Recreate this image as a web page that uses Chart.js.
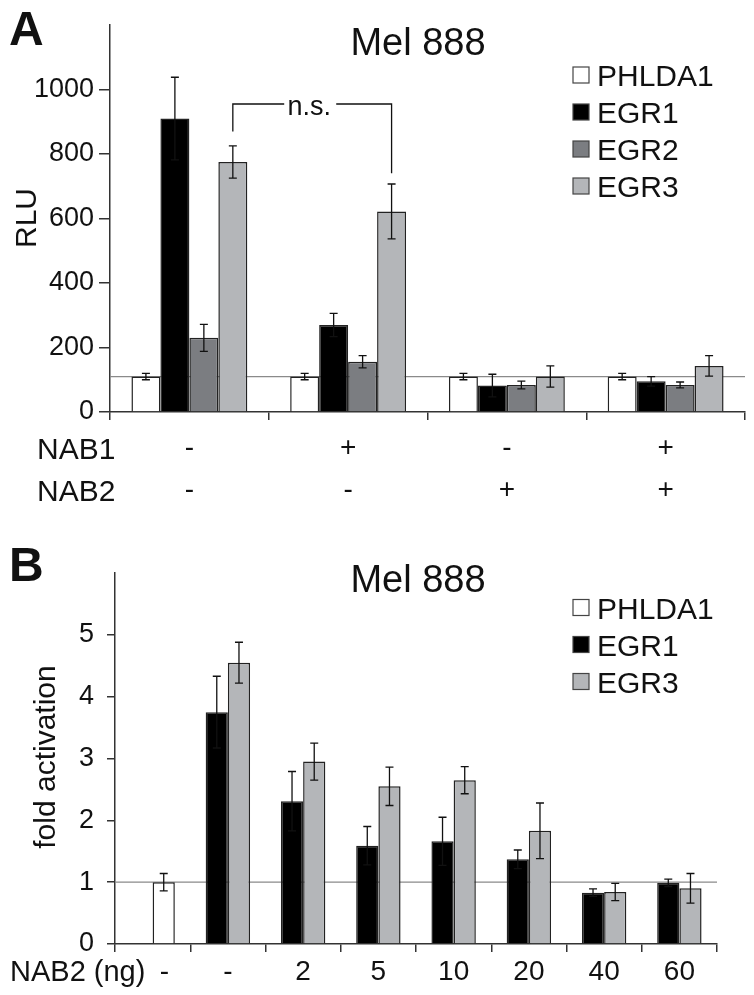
<!DOCTYPE html>
<html>
<head>
  <meta charset="utf-8">
  <title>Mel 888 - PHLDA1 / EGR reporter assays</title>
  <script src="https://cdn.jsdelivr.net/npm/chart.js"></script>
  <style>
    body { margin: 0; background: #fff; }
    canvas { position: absolute; left: 0; }
    #chartA { top: 0; }
    #chartB { top: 520px; }
  </style>
</head>
<body>
  <canvas id="chartA" width="754" height="520"></canvas>
  <canvas id="chartB" width="754" height="475"></canvas>
  <script>
    const FONT = '"Liberation Sans", Arial, Helvetica, sans-serif';

    // ---- panel A data ----
    const catsA = [['-', '-'], ['+', '-'], ['-', '+'], ['+', '+']];
    const rowsA = ['NAB1', 'NAB2'];
    const phlda1A = [110, 110, 110, 110];
    const phlda1ErrA = [10, 10, 10, 10];
    const egr1A = [910, 270, 82, 95];
    const egr1ErrA = [128, 36, 35, 15];
    const egr2A = [230, 156, 84, 84];
    const egr2ErrA = [42, 19, 12, 9];
    const egr3A = [775, 622, 110, 143];
    const egr3ErrA = [50, 85, 33, 32];
    const ticksA = [0, 200, 400, 600, 800, 1000];
    const baseA = 110;
    // n.s. bracket between EGR3 of group 1 and group 2 (values in RLU)
    const nsA = {from: 0, to: 1, top: 955, leftEnd: 870, rightEnd: 740};

    // ---- panel B data ----
    const catsB = ['-', '-', '2', '5', '10', '20', '40', '60'];
    const rowB = 'NAB2 (ng)';
    const phlda1B = [1.0, null, null, null, null, null, null, null];
    const phlda1ErrB = [0.14, null, null, null, null, null, null, null];
    const egr1B = [null, 3.75, 2.31, 1.59, 1.66, 1.37, 0.83, 0.99];
    const egr1ErrB = [null, 0.58, 0.48, 0.31, 0.39, 0.15, 0.06, 0.06];
    const egr3B = [null, 4.55, 2.95, 2.55, 2.65, 1.83, 0.84, 0.90];
    const egr3ErrB = [null, 0.33, 0.30, 0.31, 0.22, 0.45, 0.14, 0.24];
    const ticksB = [0, 1, 2, 3, 4, 5];
    const baseB = 1;

    const colors = {PHLDA1: '#ffffff', EGR1: '#000000', EGR2: '#7b7d81', EGR3: '#b4b6b9'};
    const AXIS = '#333';

    function bar(label, data, errors, stack) {
      const ds = {label, data, errors, backgroundColor: colors[label],
        borderColor: '#222', borderWidth: 1.5, borderSkipped: 'start'};
      if (stack) ds.stack = stack;
      return ds;
    }

    // reference line, error bars, titles, legend, row headers
    function decor(o) {
      return {
        id: 'decor',
        beforeDatasetsDraw(chart) {
          const {ctx, chartArea: a, scales: {y}} = chart;
          const py = y.getPixelForValue(o.base);
          ctx.save();
          ctx.strokeStyle = '#8a8a8a';
          ctx.lineWidth = 1.2;
          ctx.beginPath();
          ctx.moveTo(a.left, py);
          ctx.lineTo(a.right, py);
          ctx.stroke();
          ctx.restore();
        },
        afterDatasetsDraw(chart) {
          const {ctx, scales: {y}} = chart;
          ctx.save();
          ctx.strokeStyle = '#111';
          ctx.lineWidth = 1.3;
          chart.data.datasets.forEach((ds, i) => {
            const meta = chart.getDatasetMeta(i);
            ds.data.forEach((v, j) => {
              if (v == null || ds.errors[j] == null) return;
              const x = meta.data[j].x;
              const t = y.getPixelForValue(v + ds.errors[j]);
              const b = y.getPixelForValue(v - ds.errors[j]);
              ctx.beginPath();
              ctx.moveTo(x, t); ctx.lineTo(x, b);
              ctx.moveTo(x - 4, t); ctx.lineTo(x + 4, t);
              ctx.moveTo(x - 4, b); ctx.lineTo(x + 4, b);
              ctx.stroke();
            });
          });
          ctx.restore();
        },
        afterDraw(chart) {
          const {ctx, scales: {x, y}} = chart;
          ctx.save();
          ctx.fillStyle = '#111';
          // panel letter
          ctx.font = 'bold 48px ' + FONT;
          ctx.textAlign = 'left';
          ctx.textBaseline = 'alphabetic';
          ctx.fillText(o.letter, 9, o.letterY);
          // title
          ctx.font = '38px ' + FONT;
          ctx.textAlign = 'center';
          ctx.fillText('Mel 888', 418, o.titleY);
          // y title
          ctx.save();
          ctx.translate(o.yTitleX, o.yTitleY);
          ctx.rotate(-Math.PI / 2);
          ctx.font = '30px ' + FONT;
          ctx.fillText(o.yTitle, 0, 0);
          ctx.restore();
          // row headers under the x axis
          ctx.font = o.rowFont + 'px ' + FONT;
          ctx.textAlign = 'left';
          o.rows.forEach((r, k) => ctx.fillText(r, o.rowX, x.top + o.rowY + k * 42));
          // legend
          ctx.font = '30px ' + FONT;
          o.legend.forEach((name, k) => {
            const cy = o.legendY + k * 37;
            ctx.fillStyle = colors[name];
            ctx.fillRect(573, cy - 8, 16, 16);
            ctx.strokeStyle = '#444';
            ctx.lineWidth = 1.2;
            ctx.strokeRect(573, cy - 8, 16, 16);
            ctx.fillStyle = '#111';
            ctx.fillText(name, 597, cy + 11);
          });
          // significance bracket
          if (o.ns) {
            const m = chart.getDatasetMeta(chart.data.datasets.findIndex(d => d.label === 'EGR3'));
            const x1 = m.data[o.ns.from].x, x2 = m.data[o.ns.to].x;
            const yt = y.getPixelForValue(o.ns.top);
            const mid = (x1 + x2) / 2;
            ctx.strokeStyle = '#111';
            ctx.lineWidth = 1.3;
            ctx.beginPath();
            ctx.moveTo(x1, y.getPixelForValue(o.ns.leftEnd));
            ctx.lineTo(x1, yt); ctx.lineTo(mid - 28, yt);
            ctx.moveTo(mid + 24, yt); ctx.lineTo(x2, yt);
            ctx.lineTo(x2, y.getPixelForValue(o.ns.rightEnd));
            ctx.stroke();
            ctx.font = '27px ' + FONT;
            ctx.textAlign = 'center';
            ctx.fillText('n.s.', mid - 3, yt + 11);
          }
          ctx.restore();
        }
      };
    }

    function axes(o) {
      return {
        x: {
          grid: {drawOnChartArea: false, drawTicks: true, tickLength: 8, color: AXIS, lineWidth: 1.5, offset: true},
          border: {color: AXIS, width: 1.5},
          ticks: {color: '#111', font: {family: FONT, size: 28, lineHeight: o.xLine}, padding: o.xPad,
            maxRotation: 0, autoSkip: false, callback: o.xLabel},
          afterFit: s => { s.height = o.xHeight; }
        },
        y: {
          min: 0, max: o.max,
          grid: {drawOnChartArea: false, drawTicks: true, tickLength: o.yTick, color: AXIS, lineWidth: 1.5},
          border: {color: AXIS, width: 1.5},
          ticks: {color: '#111', font: {family: FONT, size: 27}, padding: o.yPad, callback: v => String(v)},
          afterBuildTicks: s => { s.ticks = o.ticks.map(v => ({value: v})); },
          afterFit: s => { s.width = o.yWidth; }
        }
      };
    }

    new Chart(document.getElementById('chartA'), {
      type: 'bar',
      data: {
        labels: catsA,
        datasets: [
          bar('PHLDA1', phlda1A, phlda1ErrA),
          bar('EGR1', egr1A, egr1ErrA),
          bar('EGR2', egr2A, egr2ErrA),
          bar('EGR3', egr3A, egr3ErrA)
        ]
      },
      options: {
        responsive: false,
        animation: false,
        layout: {padding: {left: 0, top: 25, right: 9, bottom: 0}},
        datasets: {bar: {categoryPercentage: 0.73, barPercentage: 1}},
        plugins: {legend: {display: false}, tooltip: {enabled: false}},
        scales: axes({max: 1200, ticks: ticksA, xLine: 1.5, xPad: 7, xHeight: 108,
          yTick: 11, yPad: 5, yWidth: 110, xLabel: (v, i) => catsA[i]})
      },
      plugins: [decor({letter: 'A', letterY: 45, titleY: 55, base: baseA,
        yTitle: 'RLU', yTitleX: 36, yTitleY: 218,
        rows: rowsA, rowX: 37, rowY: 47, rowFont: 30,
        legend: ['PHLDA1', 'EGR1', 'EGR2', 'EGR3'], legendY: 75, ns: nsA})]
    });

    // EGR1 gets its own slot; PHLDA1 and EGR3 share the second slot
    new Chart(document.getElementById('chartB'), {
      type: 'bar',
      data: {
        labels: catsB,
        datasets: [
          bar('EGR1', egr1B, egr1ErrB, 'a'),
          bar('PHLDA1', phlda1B, phlda1ErrB, 'b'),
          bar('EGR3', egr3B, egr3ErrB, 'b')
        ]
      },
      options: {
        responsive: false,
        animation: false,
        layout: {padding: {left: 0, top: 53, right: 37, bottom: 0}},
        datasets: {bar: {categoryPercentage: 0.59, barPercentage: 1}},
        plugins: {legend: {display: false}, tooltip: {enabled: false}},
        scales: axes({max: 6, ticks: ticksB, xLine: 1.2, xPad: 3, xHeight: 51,
          yTick: 8, yPad: 13, yWidth: 115,
          // first label sits under the lone PHLDA1 bar, right of the slot centre
          xLabel: (v, i) => (i === 0 ? '\u2007 ' : '') + catsB[i]})
      },
      plugins: [decor({letter: 'B', letterY: 61, titleY: 72, base: baseB,
        yTitle: 'fold activation', yTitleX: 55, yTitleY: 237,
        rows: [rowB], rowX: 10, rowY: 37, rowFont: 29,
        legend: ['PHLDA1', 'EGR1', 'EGR3'], legendY: 87.5, ns: null})]
    });
  </script>
</body>
</html>
